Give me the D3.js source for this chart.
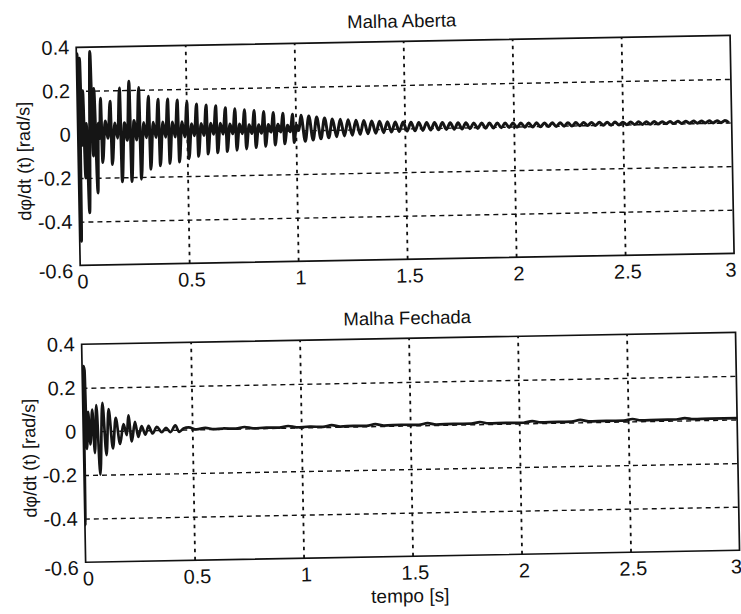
<!DOCTYPE html>
<html>
<head>
<meta charset="utf-8">
<script src="https://cdn.jsdelivr.net/npm/d3@7"></script>
<style>
  html, body { margin: 0; padding: 0; background: #fff; }
  svg { display: block; }
  text { font-family: "Liberation Sans", Arial, Helvetica, sans-serif; fill: #111; }
</style>
</head>
<body>
<svg id="chart" width="741" height="614"></svg>
<script>
// ---- tick labels and texts ----
const xTicks = [0, 0.5, 1, 1.5, 2, 2.5, 3];
const yTicks = [-0.6, -0.4, -0.2, 0, 0.2, 0.4];
const titles = ["Malha Aberta", "Malha Fechada"];
const yLabel = "dφ/dt (t) [rad/s]";
const xLabel = "tempo [s]";

// ---- open loop: first transient (time s, value rad/s) ----
const inicioT = [0.000, 0.003, 0.008, 0.014, 0.020, 0.026, 0.033, 0.040, 0.048, 0.062, 0.070, 0.077, 0.088, 0.095, 0.100];
const inicioV = [0.00, 0.37, -0.49, 0.35, -0.05, 0.20, -0.20, 0.05, -0.36, 0.38, -0.10, 0.21, -0.27, 0.05, -0.02];

// ---- open loop: oscillation cycles (start time, peak, trough) ----
const abertaTempo = [0.107, 0.151, 0.195, 0.239, 0.283, 0.327, 0.371, 0.415, 0.459, 0.503, 0.547, 0.591, 0.635, 0.679, 0.723, 0.767, 0.811, 0.855, 0.899, 0.943, 0.987,
  1.025, 1.061, 1.097, 1.133, 1.169, 1.205, 1.241, 1.277, 1.313, 1.349, 1.385, 1.421, 1.457, 1.493, 1.529, 1.565, 1.601, 1.637, 1.673, 1.709,
  1.745, 1.781, 1.817, 1.853, 1.889, 1.925, 1.961, 1.997, 2.033, 2.069, 2.105, 2.141, 2.177, 2.213, 2.249, 2.285, 2.321, 2.357, 2.393, 2.429,
  2.465, 2.501, 2.537, 2.573, 2.609, 2.645, 2.681, 2.717, 2.753, 2.789, 2.825, 2.861, 2.897, 2.933, 2.969];
const abertaPico = [0.165, 0.15, 0.21, 0.24, 0.21, 0.17, 0.155, 0.155, 0.15, 0.14, 0.13, 0.125, 0.12, 0.11, 0.105, 0.10, 0.095, 0.09, 0.085, 0.08, 0.075,
  0.07, 0.065, 0.06, 0.055, 0.05, 0.048, 0.045, 0.042, 0.04, 0.037, 0.035, 0.033, 0.031, 0.03, 0.028, 0.027, 0.026, 0.025, 0.024, 0.023,
  0.022, 0.021, 0.02, 0.019, 0.018, 0.018, 0.017, 0.016, 0.016, 0.015, 0.015, 0.014, 0.014, 0.014, 0.013, 0.013, 0.013, 0.012, 0.012, 0.012,
  0.012, 0.011, 0.011, 0.011, 0.011, 0.011, 0.01, 0.01, 0.01, 0.01, 0.01, 0.01, 0.01, 0.01, 0.01];
const abertaVale = [-0.13, -0.14, -0.22, -0.22, -0.21, -0.165, -0.15, -0.14, -0.135, -0.12, -0.11, -0.10, -0.095, -0.09, -0.085, -0.08, -0.075, -0.07, -0.065, -0.06, -0.055,
  -0.05, -0.045, -0.04, -0.036, -0.032, -0.029, -0.026, -0.023, -0.021, -0.019, -0.017, -0.015, -0.013, -0.012, -0.011, -0.01, -0.009, -0.008, -0.008, -0.007,
  -0.007, -0.006, -0.006, -0.005, -0.005, -0.005, -0.004, -0.004, -0.004, -0.004, -0.003, -0.003, -0.003, -0.003, -0.003, -0.002, -0.002, -0.002, -0.002, -0.002,
  -0.002, -0.001, -0.001, -0.001, -0.001, -0.001, 0.0, 0.0, 0.0, 0.0, 0.0, 0.0, 0.0, 0.0, 0.0];
// secondary swing inside each early cycle (hollow loop near zero)
const abertaMeio = [0.06, 0.05, 0.05, 0.06, 0.05, 0.05, 0.05, 0.05, 0.05, 0.04, 0.04, 0.04, 0.04, 0.035, 0.035, 0.03, 0.03, 0.03, 0.03, 0.025, 0.025];
const abertaBaixo = [-0.02, -0.02, -0.03, -0.03, -0.02, -0.02, -0.02, -0.02, -0.02, -0.015, -0.015, -0.01, -0.01, -0.01, -0.01, -0.01, -0.01, -0.005, -0.005, -0.005, 0.0];

// ---- closed loop response (time s, value rad/s) ----
const fechadaT = [0.000, 0.002, 0.006, 0.011, 0.016, 0.024, 0.032, 0.043, 0.052, 0.062, 0.075, 0.090, 0.105, 0.118, 0.135, 0.150, 0.168, 0.185,
  0.200, 0.208, 0.222, 0.238, 0.252, 0.268, 0.285, 0.300, 0.318, 0.338, 0.360, 0.380, 0.400, 0.423, 0.440, 0.460, 0.484,
  0.52, 0.56, 0.60, 0.64, 0.70, 0.74, 0.78, 0.84, 0.90, 0.94, 0.98, 1.04, 1.10, 1.14, 1.18, 1.24, 1.30, 1.34, 1.38, 1.46,
  1.54, 1.58, 1.62, 1.70, 1.78, 1.82, 1.86, 1.94, 2.02, 2.06, 2.10, 2.18, 2.24, 2.28, 2.32, 2.40, 2.48, 2.52, 2.56, 2.64,
  2.72, 2.76, 2.80, 2.88, 2.94, 3.00];
const fechadaV = [0.00, -0.43, 0.30, 0.28, -0.08, 0.09, -0.06, 0.10, -0.10, 0.12, -0.20, 0.13, -0.11, 0.10, -0.08, 0.06, -0.06, 0.03,
  -0.02, 0.07, -0.05, 0.04, -0.03, 0.02, -0.02, 0.02, -0.015, 0.015, -0.01, 0.01, -0.01, 0.02, -0.01, 0.005, 0.01,
  0.0, 0.006, 0.0, 0.002, 0.0, 0.007, 0.0, 0.002, 0.001, 0.008, 0.001, 0.003, 0.001, 0.008, 0.001, 0.003, 0.002, 0.009, 0.002, 0.004,
  0.002, 0.009, 0.002, 0.004, 0.003, 0.010, 0.003, 0.004, 0.003, 0.010, 0.003, 0.004, 0.004, 0.011, 0.004, 0.005, 0.004, 0.011, 0.004, 0.005,
  0.005, 0.011, 0.005, 0.006, 0.006, 0.006];

// ---- assemble the open-loop trace from its cycles ----
function tracoAberto() {
  const pts = inicioT.map((t, i) => [t, inicioV[i]]);
  abertaTempo.forEach((t, i) => {
    const next = i + 1 < abertaTempo.length ? abertaTempo[i + 1] : t + (t - abertaTempo[i - 1]);
    const per = next - t;
    pts.push([t, abertaPico[i]]);
    if (i < abertaMeio.length) {
      pts.push([t + 0.12 * per, abertaVale[i]]);
      pts.push([t + 0.45 * per, abertaMeio[i]]);
      pts.push([t + 0.72 * per, abertaBaixo[i]]);
    } else {
      pts.push([t + 0.5 * per, abertaVale[i]]);
    }
  });
  return pts.filter(d => d[0] <= 3);
}
const tracoFechado = fechadaT.map((t, i) => [t, fechadaV[i]]);

// plain hyphen minus, as printed on the axes
const fmt = d => String(d);

// ---- layout ----
const svg = d3.select("#chart");
svg.append("rect").attr("width", 741).attr("height", 614).attr("fill", "#fff");
// the sheet sits slightly tilted
const sheet = svg.append("g").attr("transform", "rotate(-1.05,370,307)");

const left = 81, right = 735, plotH = 218;
const panels = [
  { title: titles[0], top: 42, data: tracoAberto(), xlab: false, width: 3.0 },
  { title: titles[1], top: 339, data: tracoFechado, xlab: true, width: 2.7 }
];

panels.forEach((p, k) => {
  const g = sheet.append("g");
  const x = d3.scaleLinear().domain([0, 3]).range([left, right]);
  const y = d3.scaleLinear().domain([-0.6, 0.4]).range([p.top + plotH, p.top]);

  // grid: horizontal dashed lines
  const gy = g.append("g").attr("transform", `translate(${left},0)`)
    .call(d3.axisLeft(y).tickValues(yTicks.slice(1, -1)).tickSize(-(right - left)).tickFormat(""));
  gy.select(".domain").remove();
  gy.selectAll(".tick line").attr("stroke", "#111").attr("stroke-width", 1.4).attr("stroke-dasharray", "5,4");

  // grid: vertical dotted lines
  const gx = g.append("g").attr("transform", `translate(0,${p.top + plotH})`)
    .call(d3.axisBottom(x).tickValues(xTicks.slice(1, -1)).tickSize(-plotH).tickFormat(""));
  gx.select(".domain").remove();
  gx.selectAll(".tick line").attr("stroke", "#111").attr("stroke-width", 1.8).attr("stroke-dasharray", "3.5,4.5");

  // signal
  const clipId = "clip" + k;
  g.append("clipPath").attr("id", clipId).append("rect")
    .attr("x", left).attr("y", p.top - 2).attr("width", right - left).attr("height", plotH + 4);
  const line = d3.line().x(d => x(d[0])).y(d => y(d[1])).curve(d3.curveMonotoneX);
  g.append("path").datum(p.data)
    .attr("clip-path", `url(#${clipId})`)
    .attr("fill", "none").attr("stroke", "#151515")
    .attr("stroke-width", p.width).attr("stroke-linejoin", "round")
    .attr("d", line);

  // frame
  g.append("rect").attr("x", left).attr("y", p.top).attr("width", right - left).attr("height", plotH)
    .attr("fill", "none").attr("stroke", "#111").attr("stroke-width", 1.7);

  // tick labels
  const ax = g.append("g").attr("transform", `translate(0,${p.top + plotH})`)
    .call(d3.axisBottom(x).tickValues(xTicks).tickSize(0).tickPadding(9).tickFormat(fmt));
  ax.select(".domain").remove();
  ax.selectAll("text").attr("font-size", 20).attr("fill", "#111")
    .attr("font-family", "Liberation Sans, Arial, sans-serif")
    .attr("dx", d => d === 3 ? -4 : 2);

  const ay = g.append("g").attr("transform", `translate(${left},0)`)
    .call(d3.axisLeft(y).tickValues(yTicks).tickSize(0).tickPadding(7).tickFormat(fmt));
  ay.select(".domain").remove();
  ay.selectAll("text").attr("font-size", 20).attr("fill", "#111")
    .attr("font-family", "Liberation Sans, Arial, sans-serif")
    .attr("dy", d => d === -0.6 ? "0.6em" : "0.32em");

  // title
  g.append("text").attr("x", 407).attr("y", p.top - 14)
    .attr("text-anchor", "middle").attr("font-size", 18.5).text(p.title);

  // y label
  g.append("text")
    .attr("transform", `translate(33,${p.top + plotH / 2 + 4}) rotate(-90)`)
    .attr("text-anchor", "middle").attr("font-size", 18).text(yLabel);

  if (p.xlab) {
    g.append("text").attr("x", 405).attr("y", p.top + plotH + 46)
      .attr("text-anchor", "middle").attr("font-size", 19).text(xLabel);
  }
});
</script>
</body>
</html>
